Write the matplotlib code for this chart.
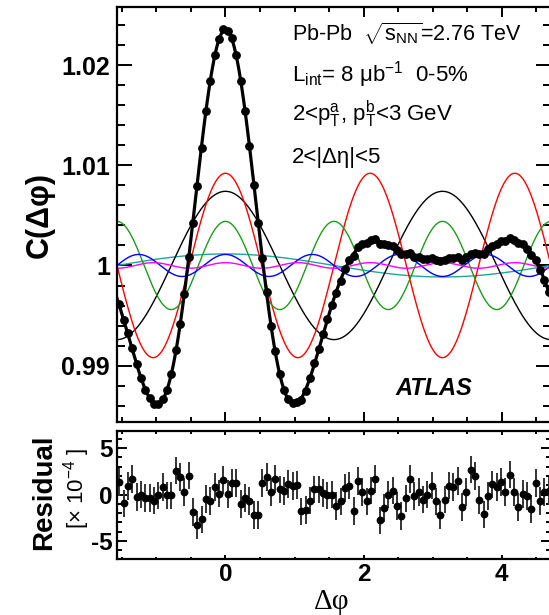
import numpy as np
import matplotlib.pyplot as plt
from matplotlib.ticker import MultipleLocator, FormatStrFormatter

plt.rcParams['font.family'] = ['Liberation Sans', 'DejaVu Sans']
plt.rcParams['mathtext.fontset'] = 'custom'
plt.rcParams['mathtext.rm'] = 'Liberation Sans'
plt.rcParams['mathtext.it'] = 'Liberation Sans:italic'
plt.rcParams['mathtext.bf'] = 'Liberation Sans:bold'
plt.rcParams['axes.unicode_minus'] = False

# Fourier harmonics: C_n = 1 + 2 v_nn cos(n dphi)
harm_n = [1, 2, 3, 4, 5, 6]
harm_vnn = [0.000575, 0.0037, 0.0046, 0.0022, 0.00055, 0.00014]
harm_colors = ['#22a3a3', 'black', 'red', '#1f9a1f', 'blue', 'magenta']

# residual (data - fit) in units of 1e-4, one per dphi bin (100 bins over 2pi)
residual = [1.33, -0.97, 0.9, 1.7, -0.25, 0.0, -0.36, -0.36, -0.65, -0.1,
            0.82, -0.1, -0.1, 2.58, 1.86, 0.25, 2.04, -1.9, -3.26, -2.69,
            -0.47, -0.72, 0.82, 0.1, 1.54, 0.07, 1.25, 1.25, -1.0, -0.36,
            -0.72, -2.22, -2.22, 1.25, 1.86, 0.29, 1.68, 0.54, 0.36, 1.15,
            0.9, 1.04, -1.83, -1.68, -0.65, 0.54, 0.54, 0.18, -0.1, 0.0,
            -1.25, -0.75, 0.72, 0.97, -1.79, 1.43, 0.25, -0.75, 0.43, 1.68,
            -2.8, -1.47, 0.0, 0.43, -1.25, -2.33, -0.43, 1.65, -0.18, 0.25,
            -0.54, 0.0, 0.97, -0.75, -2.19, -0.54, 0.97, 0.79, 1.43, -1.36,
            0.29, 2.69, 1.97, -0.61, -2.15, -0.18, 1.08, 0.79, 1.36, 0.29,
            2.15, 0.29, -1.36, 0.07, -0.18, -1.54, 1.25, -0.72, 0.29, 0.36]
residual_err = [1.5] * len(residual)

nbins = len(residual)
xlo, xhi = -np.pi/2, 3*np.pi/2
bin_centers = xlo + (np.arange(nbins) + 0.5) * (xhi - xlo) / nbins
phi = np.linspace(xlo, xhi, 800)


def fourier_sum(x):
  c = np.ones_like(x)
  for n, v in zip(harm_n, harm_vnn):
    c = c + 2*v*np.cos(n*x)
  return c


data_c = fourier_sum(bin_centers) + np.array(residual)*1e-4

W, H = 549, 615
fig = plt.figure(figsize=(W/100, H/100), dpi=100)
ax = fig.add_axes([117/W, 1-422.3/H, (551-117)/W, (422.3-7)/H])
axr = fig.add_axes([117/W, 1-558.5/H, (551-117)/W, (558.5-430.5)/H])

for n, v, col in zip(harm_n, harm_vnn, harm_colors):
  ax.plot(phi, 1 + 2*v*np.cos(n*phi), color=col, lw=1.0, zorder=2)
ax.plot(phi, fourier_sum(phi), color='black', lw=2.3, zorder=3)
ax.plot(bin_centers, data_c, 'o', color='black', ms=5.3, zorder=4)

ax.set_xlim(xlo, xhi)
ax.set_ylim(0.98435, 1.02579)
ax.xaxis.set_major_locator(MultipleLocator(2))
ax.xaxis.set_minor_locator(MultipleLocator(0.5))
ax.yaxis.set_major_locator(MultipleLocator(0.01))
ax.yaxis.set_minor_locator(MultipleLocator(0.002))
ax.yaxis.set_major_formatter(FormatStrFormatter('%g'))
ax.tick_params(which='both', direction='in', top=True, right=True, width=1.4,
               labelbottom=False)
ax.tick_params(axis='x', which='major', length=7.5)
ax.tick_params(axis='x', which='minor', length=3.8)
ax.tick_params(axis='y', which='major', length=11, pad=5)
ax.tick_params(axis='y', which='minor', length=6)
ax.tick_params(axis='y', labelsize=18)
for t in ax.get_yticklabels():
  t.set_fontweight('bold')

axr.errorbar(bin_centers, residual, yerr=residual_err, fmt='o', color='black',
             ecolor='#333333', elinewidth=1.4, ms=4.6, capsize=0)
axr.set_xlim(xlo, xhi)
axr.set_ylim(-6.9, 6.9)
axr.xaxis.set_major_locator(MultipleLocator(2))
axr.xaxis.set_minor_locator(MultipleLocator(0.5))
axr.yaxis.set_major_locator(MultipleLocator(5))
axr.yaxis.set_minor_locator(MultipleLocator(1))
axr.xaxis.set_major_formatter(FormatStrFormatter('%d'))
axr.yaxis.set_major_formatter(FormatStrFormatter('%d'))
axr.tick_params(which='both', direction='in', top=True, right=True, width=1.4,
                labelsize=17.5)
axr.tick_params(axis='x', which='major', length=3.2, pad=3.5)
axr.tick_params(axis='x', which='minor', length=1.8)
axr.tick_params(axis='y', which='major', length=7.5, pad=3)
axr.tick_params(axis='y', which='minor', length=3.8)
for t in axr.get_xticklabels() + axr.get_yticklabels():
  t.set_fontweight('bold')

for a in (ax, axr):
  for s in a.spines.values():
    s.set_linewidth(1.6)

# labels
fig.text(40/W, 1-214.5/H, 'C(Δφ)', rotation=90, ha='center', va='center',
         fontsize=22, fontweight='bold')
fig.text(44/W, 1-492/H, 'Residual', rotation=90, ha='center', va='center',
         fontsize=20, fontweight='bold')
fig.text(77/W, 1-488/H, '[× 10$^{-4}$ ]', rotation=90, ha='center', va='center',
         fontsize=16)
fig.text(332/W, 1-609/H, 'Δφ', ha='center', va='baseline', fontsize=21,
         family=['Liberation Serif', 'DejaVu Serif'])

# annotations
tx = 291.7/W
fig.text(tx, 1-41.7/H, r'Pb-Pb  $\sqrt{\mathrm{s}_{\mathrm{NN}}}$=2.76 TeV', fontsize=15.5,
         va='baseline')
fig.text(tx, 1-81.7/H, 'L$_{\\mathrm{int}}$= 8 μb$^{-1}$  0-5%', fontsize=16,
         va='baseline')
fig.text(tx, 1-120.7/H, '2<p$_{\\mathrm{T}}^{\\mathrm{a}}$, p$_{\\mathrm{T}}^{\\mathrm{b}}$<3 GeV',
         fontsize=16, va='baseline')
fig.text(tx, 1-163/H, '2<|Δη|<5', fontsize=16, va='baseline')
fig.text(395/W, 1-395/H, 'ATLAS', fontsize=17, fontweight='bold', style='italic',
         va='baseline')

fig.savefig('out.png', dpi=100)
